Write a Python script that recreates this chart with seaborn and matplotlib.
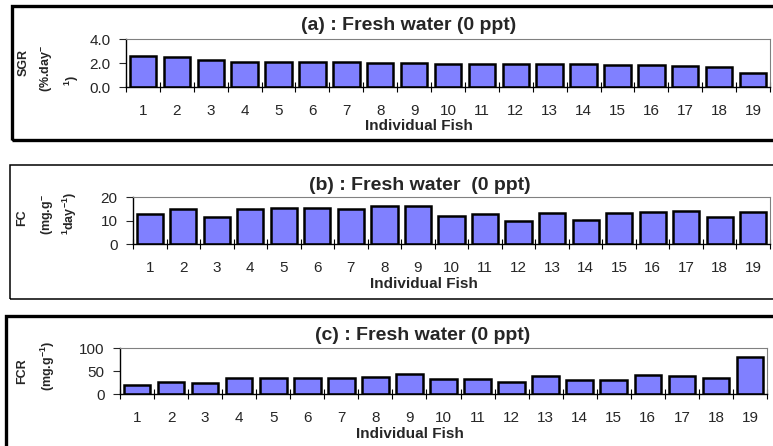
import pandas as pd
import seaborn as sns
import matplotlib.pyplot as plt
from matplotlib.patches import Rectangle
from matplotlib.ticker import FormatStrFormatter, FixedLocator

fish = [str(i) for i in range(1, 20)]
sgr = [2.60, 2.50, 2.27, 2.13, 2.13, 2.13, 2.08, 2.00, 2.05, 1.97,
       1.92, 1.92, 1.92, 1.92, 1.83, 1.83, 1.78, 1.67, 1.17]
fc = [12.8, 14.9, 11.8, 14.9, 15.6, 15.3, 14.9, 16.4, 16.3, 12.0,
      12.8, 10.0, 13.3, 10.3, 13.3, 13.6, 14.0, 11.6, 13.7]
fcr = [19.6, 26.7, 24.6, 35.4, 35.4, 35.4, 35.4, 38.3, 43.5, 34.0,
       32.6, 26.0, 39.8, 31.0, 31.8, 42.0, 39.0, 36.0, 81.0]

titles = ["(a) : Fresh water (0 ppt)", "(b) : Fresh water  (0 ppt)", "(c) : Fresh water (0 ppt)"]

sns.set_style("white")
plt.rcParams['font.family'] = ['Liberation Sans', 'DejaVu Sans']
plt.rcParams['mathtext.default'] = 'regular'

W, H = 773, 446
fig = plt.figure(figsize=(W / 100, H / 100), dpi=100)


def fx(x):
    return x / W


def fy(y):
    return 1 - y / H


def frame(x0, y0, x1, y1, lw):
    fig.patches.append(Rectangle((fx(x0), fy(y1)), (x1 - x0) / W, (y1 - y0) / H,
                                 transform=fig.transFigure, fill=False,
                                 ec='black', lw=lw))


def panel(left, top, right, bottom, values, ymax, yticks, fmt):
    ax = fig.add_axes([fx(left), fy(bottom), (right - left) / W, (bottom - top) / H])
    df = pd.DataFrame({'fish': fish, 'val': values})
    sns.barplot(data=df, x='fish', y='val', ax=ax, color='#8080ff', saturation=1,
                edgecolor='black', linewidth=1.8, width=0.78)
    ax.set_xlim(-0.5, 18.5)
    ax.set_ylim(0, ymax)
    ax.set_yticks(yticks)
    ax.yaxis.set_major_formatter(FormatStrFormatter(fmt))
    ax.xaxis.set_minor_locator(FixedLocator([i - 0.5 for i in range(20)]))
    ax.tick_params(axis='x', which='major', length=0, pad=12, labelsize=11)
    ax.tick_params(axis='x', which='minor', direction='inout', length=7,
                   width=0.8, color='black', bottom=True)
    ax.tick_params(axis='y', direction='out', length=5, width=0.8, left=True,
                   pad=6, labelsize=11)
    ax.set_xlabel('')
    ax.set_ylabel('')
    for s in ['top', 'right']:
        ax.spines[s].set_color('#808080')
        ax.spines[s].set_linewidth(0.8)
    for s in ['left', 'bottom']:
        ax.spines[s].set_color('black')
        ax.spines[s].set_linewidth(1.0)
    return ax


# panel frames
frame(12, 6, 790, 140, 2.4)
frame(10, 165, 790, 299, 1.1)
frame(6, 316, 790, 470, 2.4)

panel(126, 39.3, 770, 87.3, sgr, 4.0, [0, 2, 4], '%.1f')
panel(133, 197.3, 770, 244.3, fc, 20, [0, 10, 20], '%d')
panel(120, 348.3, 767, 394.3, fcr, 100, [0, 50, 100], '%d')

# titles
for t, (x, y) in zip(titles, [(409, 25), (420, 185), (423, 335)]):
    fig.text(fx(x), fy(y), t, ha='center', va='center', fontsize=14, fontweight='bold')

# x labels
for x, y in [(419, 126), (424, 284), (410, 434)]:
    fig.text(fx(x), fy(y), 'Individual Fish', ha='center', va='center',
             fontsize=11, fontweight='bold')

# y labels (wrapped like the original)
ylab = [
    ("SGR", 24, 62), ("(%.day$^{-}$", 47, 68), ("$^{1}$)", 72, 81),
    ("FC", 22, 218), ("(mg.g$^{-}$", 48, 215), ("$^{1}$day$^{-1}$)", 70, 214),
    ("FCR", 22, 371), ("(mg.g$^{-1}$)", 48, 366),
]
for t, x, y in ylab:
    fig.text(fx(x), fy(y), t, ha='center', va='center', rotation=90,
             fontsize=9, fontweight='bold')

fig.savefig('out.png', dpi=100)
